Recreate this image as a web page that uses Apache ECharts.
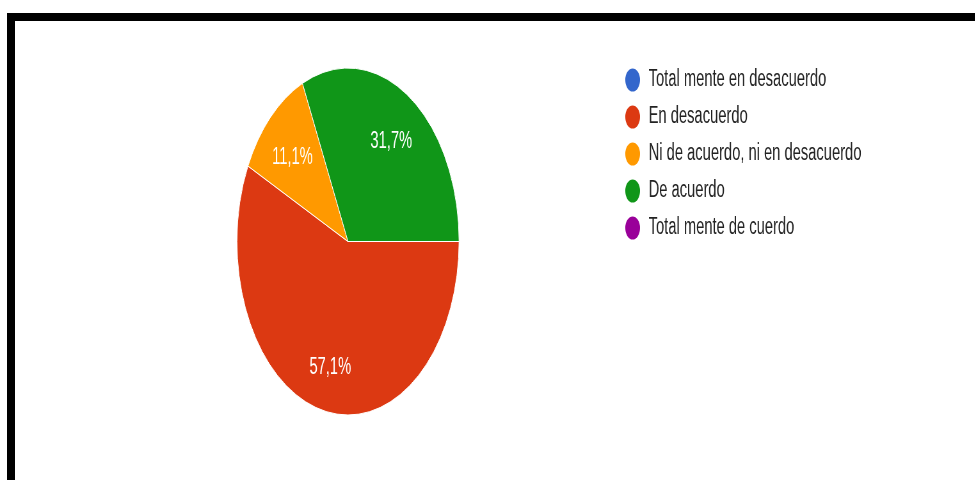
<!DOCTYPE html>
<html>
<head>
<meta charset="utf-8">
<script src="https://cdn.jsdelivr.net/npm/echarts@6/dist/echarts.min.js"></script>
<style>
  html, body { margin: 0; padding: 0; background: #ffffff; overflow: hidden; }
  body { width: 975px; height: 480px; position: relative; }
  #frame {
    position: absolute; left: 7px; top: 13px; width: 980px; height: 480px;
    border-top: 8px solid #000; border-left: 8px solid #000; box-sizing: border-box;
  }
  /* the figure is drawn wide and then narrowed, giving the oval pie */
  #chart {
    position: absolute; left: 0; top: 0; width: 1524px; height: 480px;
    transform: scaleX(0.64); transform-origin: 0 0;
  }
</style>
</head>
<body>
<div id="frame"></div>
<div id="chart"></div>
<script>
// Answer categories and their shares (percent)
const categories = [
  'Total mente en desacuerdo',
  'En desacuerdo',
  'Ni de acuerdo, ni en desacuerdo',
  'De acuerdo',
  'Total mente de cuerdo'
];
const shares = [0, 57.1, 11.1, 31.7, 0];
const palette = ['#3366cc', '#dc3912', '#ff9900', '#109618', '#990099'];

const pieData = categories.map((name, i) => ({ name: name, value: shares[i] }));
const fmt = p => (p.value ? String(p.value).replace('.', ',') + '%' : '');

const chart = echarts.init(document.getElementById('chart'), null, { renderer: 'canvas' });
chart.setOption({
  animation: false,
  color: palette,
  legend: {
    orient: 'vertical',
    left: 975,
    top: 66.5,
    padding: 0,
    icon: 'circle',
    itemWidth: 25,
    itemHeight: 25,
    itemGap: 10,
    selectedMode: false,
    data: categories,
    textStyle: {
      fontFamily: 'Arial, "Liberation Sans", sans-serif',
      fontSize: 23,
      color: '#222222',
      padding: [0, 0, 0, 7.5]
    }
  },
  series: [
    {
      // the slices
      type: 'pie',
      center: [543.75, 241.5],
      radius: [0, 173.5],
      startAngle: 0,
      clockwise: true,
      silent: true,
      label: { show: false },
      labelLine: { show: false },
      itemStyle: { borderColor: '#ffffff', borderWidth: 1 },
      data: pieData
    },
    {
      // percentage labels, placed at about 70% of the radius
      type: 'pie',
      center: [543.75, 241.5],
      radius: [69.4, 173.5],
      startAngle: 0,
      clockwise: true,
      silent: true,
      legendHoverLink: false,
      avoidLabelOverlap: false,
      itemStyle: { color: 'rgba(0,0,0,0)', borderWidth: 0 },
      labelLine: { show: false },
      label: {
        show: true,
        position: 'inside',
        offset: [0, 5],
        formatter: fmt,
        color: '#ffffff',
        fontFamily: 'Arial, "Liberation Sans", sans-serif',
        fontSize: 23
      },
      data: pieData
    }
  ]
});
</script>
</body>
</html>
